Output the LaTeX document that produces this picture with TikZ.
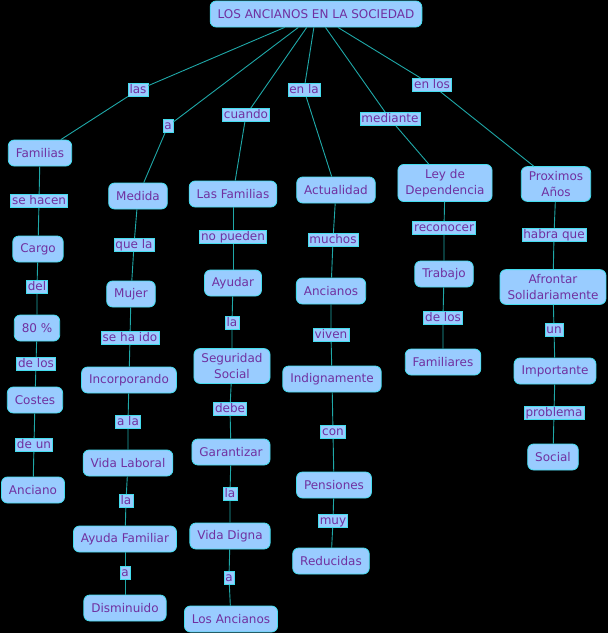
\documentclass[tikz,border=0pt]{standalone}
\usepackage{fontspec}
\setmainfont{DejaVu Sans}
\usetikzlibrary{positioning}
\definecolor{Night}{HTML}{000000}
\definecolor{Sky}{HTML}{99CCFF}
\definecolor{Rim}{HTML}{44DDEE}
\definecolor{Plum}{HTML}{7030A0}
\definecolor{Wire}{HTML}{1FA8A8}
\tikzset{
  concept/.style={draw=Rim,thick,rounded corners=6pt,fill=Sky,text=Plum,font=\fontsize{12}{15.5}\selectfont,minimum height=26pt,inner xsep=7.5pt,inner ysep=5pt,align=center},
  linkbox/.style={draw=Rim,line width=.5pt,fill=Sky,text=Plum,font=\fontsize{12}{14}\selectfont,inner xsep=1.5pt,inner ysep=1pt,text height=8.8pt,text depth=2.6pt},
  wire/.style={draw=Wire,line width=.9pt}
}
\begin{document}
\begin{tikzpicture}[x=1pt,y=-1pt]
\fill[Night] (0,0) rectangle (608,633);
% root
\node[concept] (top) at (316,14) {LOS ANCIANOS EN LA SOCIEDAD};
% first column
\node[linkbox] (lLas) at (138,90) {las};
\node[concept] (fam) at (40,153) {Familias};
\node[linkbox] (lHacen) at (39,201) {se hacen};
\node[concept] (cargo) at (38,249) {Cargo};
\node[linkbox] (lDel) at (37,287) {del};
\node[concept] (pct) at (37,328) {80 \%};
\node[linkbox] (lDeLos) at (36,364) {de los};
\node[concept] (costes) at (35,400) {Costes};
\node[linkbox] (lDeUn) at (34,445) {de un};
\node[concept] (anciano) at (33,490) {Anciano};
% second column
\node[linkbox] (lA) at (168,126) {a};
\node[concept] (medida) at (138,196) {Medida};
\node[linkbox] (lQueLa) at (134,245) {que la};
\node[concept] (mujer) at (131,294) {Mujer};
\node[linkbox] (lHaIdo) at (130,338) {se ha ido};
\node[concept] (incorp) at (129,380) {Incorporando};
\node[linkbox] (lALa) at (128,422) {a la};
\node[concept] (vlab) at (128,463) {Vida Laboral};
\node[linkbox] (lLaB) at (126,501) {la};
\node[concept] (ayuda) at (125,539) {Ayuda Familiar};
\node[linkbox] (lAB) at (125,573) {a};
\node[concept] (dismin) at (125,608) {Disminuido};
% third column
\node[linkbox] (lCuando) at (246,115) {cuando};
\node[concept] (lfam) at (233,194) {Las Familias};
\node[linkbox] (lNoPueden) at (233,237) {no pueden};
\node[concept] (ayudar) at (233,283) {Ayudar};
\node[linkbox] (lLaC) at (232,323) {la};
\node[concept] (segsoc) at (232,366) {Seguridad\\Social};
\node[linkbox] (lDebe) at (230,409) {debe};
\node[concept] (garant) at (231,452) {Garantizar};
\node[linkbox] (lLaD) at (230,494) {la};
\node[concept] (vdigna) at (230,536) {Vida Digna};
\node[linkbox] (lAC) at (229,578) {a};
\node[concept] (lanc) at (231,619) {Los Ancianos};
% fourth column
\node[linkbox] (lEnLa) at (304,90) {en la};
\node[concept] (actual) at (336,190) {Actualidad};
\node[linkbox] (lMuchos) at (333,240) {muchos};
\node[concept] (ancs) at (331,291) {Ancianos};
\node[linkbox] (lViven) at (331,335) {viven};
\node[concept] (indig) at (332,379) {Indignamente};
\node[linkbox] (lCon) at (333,432) {con};
\node[concept] (pens) at (334,485) {Pensiones};
\node[linkbox] (lMuy) at (333,521) {muy};
\node[concept] (reduc) at (331,561) {Reducidas};
% fifth column
\node[linkbox] (lMediante) at (390,119) {mediante};
\node[concept] (ley) at (445,183) {Ley de\\Dependencia};
\node[linkbox] (lReconocer) at (444,228) {reconocer};
\node[concept] (trab) at (444,274) {Trabajo};
\node[linkbox] (lDeLosB) at (443,318) {de los};
\node[concept] (famil) at (443,362) {Familiares};
% sixth column
\node[linkbox] (lEnLos) at (432,85) {en los};
\node[concept] (prox) at (556,184) {Proximos\\Años};
\node[linkbox] (lHabra) at (554,235) {habra que};
\node[concept] (afront) at (553,287) {Afrontar\\Solidariamente};
\node[linkbox] (lUn) at (554,330) {un};
\node[concept] (import) at (555,371) {Importante};
\node[linkbox] (lProblema) at (554,413) {problema};
\node[concept] (social) at (553,457) {Social};
% connectors
\draw[wire] (top)--(lLas)--(fam);\draw[wire] (fam)--(lHacen)--(cargo);\draw[wire] (cargo)--(lDel)--(pct);
\draw[wire] (pct)--(lDeLos)--(costes);\draw[wire] (costes)--(lDeUn)--(anciano);
\draw[wire] (top)--(lA)--(medida);\draw[wire] (medida)--(lQueLa)--(mujer);\draw[wire] (mujer)--(lHaIdo)--(incorp);
\draw[wire] (incorp)--(lALa)--(vlab);\draw[wire] (vlab)--(lLaB)--(ayuda);\draw[wire] (ayuda)--(lAB)--(dismin);
\draw[wire] (top)--(lCuando)--(lfam);\draw[wire] (lfam)--(lNoPueden)--(ayudar);\draw[wire] (ayudar)--(lLaC)--(segsoc);
\draw[wire] (segsoc)--(lDebe)--(garant);\draw[wire] (garant)--(lLaD)--(vdigna);\draw[wire] (vdigna)--(lAC)--(lanc);
\draw[wire] (top)--(lEnLa)--(actual);\draw[wire] (actual)--(lMuchos)--(ancs);\draw[wire] (ancs)--(lViven)--(indig);
\draw[wire] (indig)--(lCon)--(pens);\draw[wire] (pens)--(lMuy)--(reduc);
\draw[wire] (top)--(lMediante)--(ley);\draw[wire] (ley)--(lReconocer)--(trab);\draw[wire] (trab)--(lDeLosB)--(famil);
\draw[wire] (top)--(lEnLos)--(prox);\draw[wire] (prox)--(lHabra)--(afront);\draw[wire] (afront)--(lUn)--(import);
\draw[wire] (import)--(lProblema)--(social);
\end{tikzpicture}
\end{document}
